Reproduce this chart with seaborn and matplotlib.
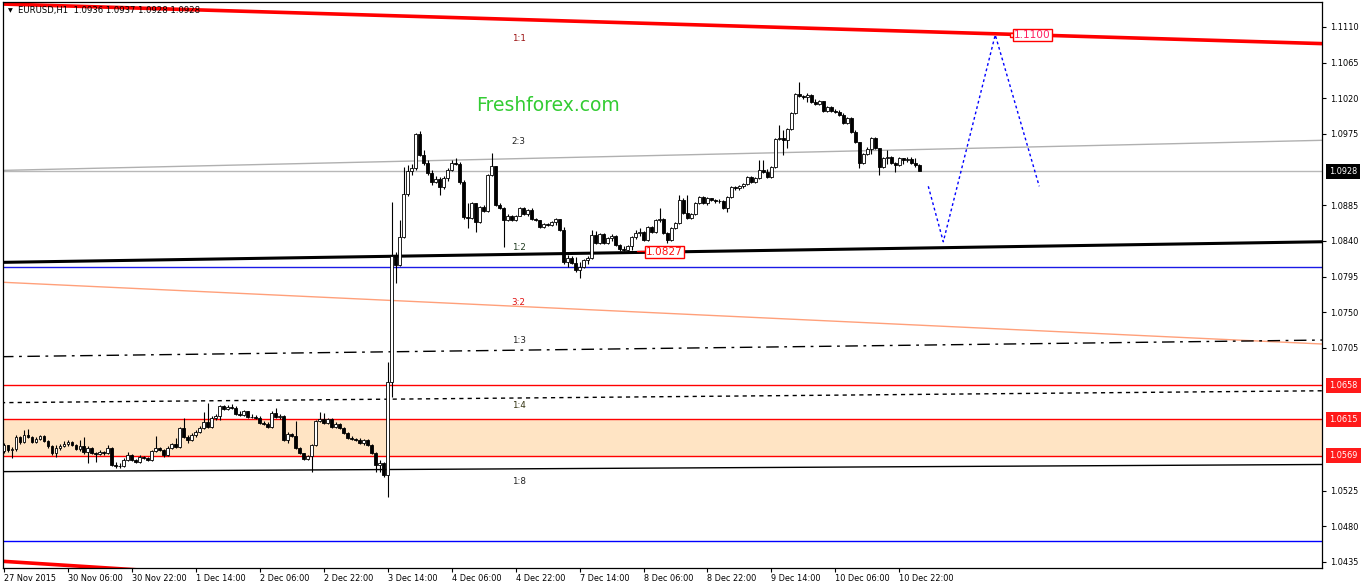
import numpy as np
import pandas as pd
import matplotlib
matplotlib.use("Agg")
import matplotlib.pyplot as plt
import seaborn as sns

# EURUSD H1 candles (open of each bar = previous close)
first_open = 1.0575
closes = [
    1.0583, 1.0576, 1.0578, 1.0593, 1.0586, 1.0595, 1.0593, 1.0586, 1.0590, 1.0594,
    1.0588, 1.0581, 1.0573, 1.0579, 1.0581, 1.0584, 1.0586, 1.0583, 1.0578, 1.0581,
    1.0574, 1.0579, 1.0573, 1.0571, 1.0574, 1.0573, 1.0579, 1.0557, 1.0556, 1.0556,
    1.0564, 1.0570, 1.0564, 1.0561, 1.0567, 1.0566, 1.0564, 1.0575, 1.0579, 1.0576,
    1.0570, 1.0579, 1.0584, 1.0580, 1.0604, 1.0593, 1.0589, 1.0595, 1.0599, 1.0604,
    1.0612, 1.0605, 1.0617, 1.0619, 1.0632, 1.0628, 1.0631, 1.0629, 1.0622, 1.0620,
    1.0626, 1.0618, 1.0618, 1.0617, 1.0610, 1.0609, 1.0605, 1.0623, 1.0618, 1.0619,
    1.0589, 1.0596, 1.0594, 1.0579, 1.0573, 1.0565, 1.0569, 1.0583, 1.0613, 1.0615,
    1.0610, 1.0615, 1.0605, 1.0609, 1.0604, 1.0598, 1.0591, 1.0590, 1.0589, 1.0585,
    1.0589, 1.0583, 1.0573, 1.0557, 1.0560, 1.0545, 1.0662, 1.0821, 1.0810, 1.0845,
    1.0899, 1.0928, 1.0932, 1.0975, 1.0949, 1.0938, 1.0926, 1.0914, 1.0918, 1.0908,
    1.0920, 1.0930, 1.0938, 1.0937, 1.0914, 1.0870, 1.0869, 1.0888, 1.0864, 1.0883,
    1.0878, 1.0923, 1.0934, 1.0885, 1.0882, 1.0866, 1.0871, 1.0866, 1.0871, 1.0882,
    1.0874, 1.0879, 1.0868, 1.0866, 1.0858, 1.0862, 1.0860, 1.0864, 1.0868, 1.0854,
    1.0814, 1.0819, 1.0812, 1.0803, 1.0807, 1.0816, 1.0819, 1.0848, 1.0838, 1.0849,
    1.0838, 1.0844, 1.0846, 1.0835, 1.0830, 1.0829, 1.0834, 1.0845, 1.0850, 1.0851,
    1.0841, 1.0858, 1.0851, 1.0866, 1.0868, 1.0850, 1.0841, 1.0856, 1.0863, 1.0892,
    1.0875, 1.0869, 1.0874, 1.0888, 1.0896, 1.0888, 1.0894, 1.0892, 1.0890, 1.0891,
    1.0882, 1.0896, 1.0908, 1.0907, 1.0909, 1.0912, 1.0921, 1.0914, 1.0920, 1.0930,
    1.0927, 1.0921, 1.0933, 1.0969, 1.0970, 1.0967, 1.0981, 1.1002, 1.1026, 1.1023,
    1.1022, 1.1024, 1.1015, 1.1013, 1.1017, 1.1004, 1.1009, 1.1004, 1.1003, 1.0999,
    1.0989, 1.0995, 1.0978, 1.0965, 1.0938, 1.0950, 1.0956, 1.0970, 1.0957, 1.0933,
    1.0945, 1.0946, 1.0938, 1.0936, 1.0945, 1.0942, 1.0943, 1.0938, 1.0936, 1.0928,
]
highs = [
    1.0585, 1.0583, 1.0580, 1.0595, 1.0594, 1.0602, 1.0603, 1.0594, 1.0593, 1.0595,
    1.0595, 1.0589, 1.0583, 1.0583, 1.0584, 1.0588, 1.0589, 1.0588, 1.0584, 1.0589,
    1.0593, 1.0581, 1.0580, 1.0574, 1.0576, 1.0575, 1.0583, 1.0580, 1.0561, 1.0560,
    1.0566, 1.0574, 1.0571, 1.0565, 1.0570, 1.0569, 1.0567, 1.0576, 1.0594, 1.0580,
    1.0578, 1.0581, 1.0585, 1.0591, 1.0605, 1.0617, 1.0595, 1.0598, 1.0602, 1.0607,
    1.0624, 1.0636, 1.0619, 1.0622, 1.0633, 1.0633, 1.0633, 1.0634, 1.0632, 1.0626,
    1.0627, 1.0626, 1.0622, 1.0620, 1.0619, 1.0613, 1.0612, 1.0626, 1.0629, 1.0622,
    1.0620, 1.0599, 1.0598, 1.0613, 1.0580, 1.0573, 1.0570, 1.0584, 1.0614, 1.0624,
    1.0623, 1.0617, 1.0617, 1.0612, 1.0610, 1.0605, 1.0599, 1.0594, 1.0591, 1.0591,
    1.0590, 1.0590, 1.0584, 1.0574, 1.0564, 1.0561, 1.0687, 1.0889, 1.0826, 1.0867,
    1.0933, 1.0936, 1.0937, 1.0976, 1.0979, 1.0955, 1.0942, 1.0930, 1.0922, 1.0921,
    1.0922, 1.0932, 1.0942, 1.0945, 1.0940, 1.0917, 1.0888, 1.0889, 1.0888, 1.0884,
    1.0885, 1.0925, 1.0951, 1.0935, 1.0888, 1.0883, 1.0874, 1.0873, 1.0873, 1.0883,
    1.0883, 1.0880, 1.0882, 1.0869, 1.0866, 1.0863, 1.0863, 1.0865, 1.0869, 1.0868,
    1.0858, 1.0822, 1.0821, 1.0820, 1.0814, 1.0817, 1.0821, 1.0854, 1.0853, 1.0850,
    1.0850, 1.0845, 1.0849, 1.0848, 1.0836, 1.0834, 1.0835, 1.0846, 1.0854, 1.0856,
    1.0853, 1.0859, 1.0859, 1.0868, 1.0882, 1.0869, 1.0851, 1.0858, 1.0864, 1.0898,
    1.0894, 1.0898, 1.0875, 1.0889, 1.0897, 1.0897, 1.0896, 1.0894, 1.0893, 1.0893,
    1.0892, 1.0897, 1.0909, 1.0909, 1.0911, 1.0913, 1.0922, 1.0922, 1.0921, 1.0942,
    1.0942, 1.0931, 1.0935, 1.0970, 1.0986, 1.0980, 1.0983, 1.1003, 1.1027, 1.1041,
    1.1024, 1.1027, 1.1025, 1.1019, 1.1018, 1.1017, 1.1010, 1.1010, 1.1007, 1.1005,
    1.1002, 1.0997, 1.0997, 1.0980, 1.0965, 1.0951, 1.0959, 1.0971, 1.0971, 1.0957,
    1.0946, 1.0955, 1.0947, 1.0940, 1.0946, 1.0945, 1.0946, 1.0946, 1.0945, 1.0937,
]
lows = [
    1.0573, 1.0574, 1.0566, 1.0575, 1.0584, 1.0585, 1.0591, 1.0585, 1.0585, 1.0589,
    1.0586, 1.0579, 1.0570, 1.0567, 1.0576, 1.0580, 1.0581, 1.0581, 1.0576, 1.0575,
    1.0571, 1.0560, 1.0571, 1.0561, 1.0570, 1.0570, 1.0571, 1.0556, 1.0554, 1.0554,
    1.0555, 1.0562, 1.0562, 1.0560, 1.0560, 1.0565, 1.0562, 1.0562, 1.0574, 1.0575,
    1.0567, 1.0569, 1.0578, 1.0579, 1.0579, 1.0591, 1.0585, 1.0588, 1.0593, 1.0598,
    1.0603, 1.0604, 1.0604, 1.0614, 1.0614, 1.0627, 1.0627, 1.0628, 1.0620, 1.0619,
    1.0619, 1.0617, 1.0617, 1.0615, 1.0609, 1.0608, 1.0604, 1.0604, 1.0617, 1.0615,
    1.0588, 1.0585, 1.0593, 1.0578, 1.0571, 1.0564, 1.0564, 1.0549, 1.0581, 1.0612,
    1.0609, 1.0609, 1.0604, 1.0604, 1.0603, 1.0597, 1.0590, 1.0589, 1.0588, 1.0584,
    1.0583, 1.0581, 1.0571, 1.0549, 1.0549, 1.0542, 1.0517, 1.0643, 1.0787, 1.0809,
    1.0844, 1.0897, 1.0923, 1.0930, 1.0947, 1.0936, 1.0923, 1.0911, 1.0913, 1.0898,
    1.0906, 1.0916, 1.0928, 1.0936, 1.0912, 1.0868, 1.0856, 1.0868, 1.0851, 1.0863,
    1.0877, 1.0877, 1.0922, 1.0884, 1.0880, 1.0832, 1.0865, 1.0865, 1.0865, 1.0871,
    1.0873, 1.0871, 1.0866, 1.0865, 1.0856, 1.0856, 1.0859, 1.0859, 1.0860, 1.0853,
    1.0811, 1.0807, 1.0811, 1.0801, 1.0793, 1.0806, 1.0811, 1.0817, 1.0836, 1.0836,
    1.0836, 1.0836, 1.0840, 1.0834, 1.0827, 1.0827, 1.0827, 1.0829, 1.0843, 1.0846,
    1.0840, 1.0840, 1.0850, 1.0850, 1.0864, 1.0849, 1.0838, 1.0840, 1.0855, 1.0862,
    1.0874, 1.0868, 1.0868, 1.0873, 1.0887, 1.0887, 1.0885, 1.0891, 1.0888, 1.0888,
    1.0880, 1.0877, 1.0894, 1.0904, 1.0904, 1.0907, 1.0911, 1.0913, 1.0913, 1.0918,
    1.0926, 1.0920, 1.0920, 1.0932, 1.0967, 1.0948, 1.0957, 1.0980, 1.1000, 1.1022,
    1.1019, 1.1015, 1.1014, 1.1012, 1.1012, 1.1003, 1.1003, 1.1003, 1.1002, 1.0998,
    1.0988, 1.0988, 1.0976, 1.0964, 1.0932, 1.0937, 1.0949, 1.0950, 1.0956, 1.0923,
    1.0932, 1.0937, 1.0937, 1.0927, 1.0935, 1.0937, 1.0940, 1.0937, 1.0933, 1.0928,
]

date_labels = ["27 Nov 2015", "30 Nov 06:00", "30 Nov 22:00", "1 Dec 14:00", "2 Dec 06:00",
               "2 Dec 22:00", "3 Dec 14:00", "4 Dec 06:00", "4 Dec 22:00", "7 Dec 14:00",
               "8 Dec 06:00", "8 Dec 22:00", "9 Dec 14:00", "10 Dec 06:00", "10 Dec 22:00"]
bars_per_label = 16

price_ticks = [1.0435, 1.0480, 1.0525, 1.0705, 1.0750, 1.0795, 1.0840, 1.0885,
               1.0975, 1.1020, 1.1065, 1.1110]

# sloped lines: prices at the left and right edge of the window
edge_bars = [-0.75, 329.75]
red_top = [1.1139, 1.1089]
red_bottom = [1.0436, 1.0330]
gray_23 = [1.0929, 1.0967]
black_12 = [1.0813, 1.0839]
salmon_32 = [1.0788, 1.0710]
dashdot_13 = [1.0694, 1.0715]
dashed_14 = [1.0636, 1.0651]
black_18 = [1.0549, 1.0558]

bid = 1.0928
blue_mid = 1.0807
blue_low = 1.0461
red_level = 1.0658
zone_low, zone_high = 1.0569, 1.0615

forecast_bars = [231.25, 235, 248, 259]
forecast_prices = [1.0909, 1.0839, 1.1100, 1.0909]

ratio_labels = ["1:1", "2:3", "1:2", "3:2", "1:3", "1:4", "1:8"]
ratio_prices = [1.1096, 1.0966, 1.0832, 1.0763, 1.0714, 1.0632, 1.0537]
ratio_colors = ["#9b1010", "#222222", "#1f3a1f", "#e01010", "#222222", "#333311", "#222222"]

tag_prices = [1.0928, 1.0658, 1.0615, 1.0569]
tag_colors = ["black", "#ff1a1a", "#ff1a1a", "#ff1a1a"]

sns.set_style("white")
plt.rcParams["font.family"] = ["DejaVu Sans"]

fig = plt.figure(figsize=(13.62, 5.86), dpi=100)
ax = fig.add_axes([3 / 1362, 18 / 586, 1319 / 1362, 566 / 586])

# background levels
ax.axhspan(zone_low, zone_high, color="#FFE4C4", lw=0, zorder=0)
for lvl in [red_level, zone_high, zone_low]:
    ax.axhline(lvl, color="#ff0000", lw=1.0, zorder=1)
ax.axhline(bid, color="#b8b8b8", lw=1.0, zorder=1)
ax.axhline(blue_mid, color="#1a1ae6", lw=1.0, zorder=1)
ax.axhline(blue_low, color="#0000ff", lw=1.0, zorder=1)

sns.lineplot(x=edge_bars, y=red_top, ax=ax, color="#ff0000", lw=2.6, zorder=2)
sns.lineplot(x=edge_bars, y=red_bottom, ax=ax, color="#ff0000", lw=2.6, zorder=2)
sns.lineplot(x=edge_bars, y=gray_23, ax=ax, color="#b0b0b0", lw=1.0, zorder=1)
sns.lineplot(x=edge_bars, y=black_12, ax=ax, color="black", lw=2.2, zorder=2)
sns.lineplot(x=edge_bars, y=salmon_32, ax=ax, color="#ffa07a", lw=1.0, zorder=1)
sns.lineplot(x=edge_bars, y=dashdot_13, ax=ax, color="black", lw=1.0, zorder=1,
             linestyle=(0, (9, 4, 2, 4)))
sns.lineplot(x=edge_bars, y=dashed_14, ax=ax, color="black", lw=1.0, zorder=1,
             linestyle=(0, (3, 3)))
sns.lineplot(x=edge_bars, y=black_18, ax=ax, color="black", lw=1.0, zorder=1)

# candles
df = pd.DataFrame({"close": closes, "high": highs, "low": lows})
df["open"] = [first_open] + closes[:-1]
df["bar"] = np.arange(len(df))
up = df["close"] >= df["open"]
body_low = df[["open", "close"]].min(axis=1)
body_h = (df["close"] - df["open"]).abs().clip(lower=0.00003)
ax.vlines(df["bar"], df["low"], df["high"], color="black", lw=0.8, zorder=3)
ax.bar(df["bar"], body_h, bottom=body_low, width=0.72,
       color=np.where(up, "white", "black"), edgecolor="black", linewidth=0.6, zorder=4)

# forecast path
sns.lineplot(x=forecast_bars, y=forecast_prices, ax=ax, color="#0000ff", lw=1.0,
             linestyle=(0, (2, 2)), zorder=5, sort=False)

# price tags on the chart
ax.plot([158.25, 161.0], [1.0827, 1.0827], color="#ff0000", lw=1.0, zorder=5)
ax.text(165.2, 1.0826, "1.0827", ha="center", va="center", fontsize=7.6, color="#ff1010",
        zorder=6, bbox=dict(boxstyle="square,pad=0.12", fc="white", ec="#ff0000", lw=1.0))
ax.plot([252.3], [1.1100], marker="s", ms=2.5, mfc="white", mec="#ff0000", zorder=6)
ax.text(257.3, 1.1100, "1.1100", ha="center", va="center", fontsize=7.6, color="#ff2060",
        zorder=6, bbox=dict(boxstyle="square,pad=0.12", fc="white", ec="#ff0000", lw=1.0))

# ratio labels
for lbl, p, c in zip(ratio_labels, ratio_prices, ratio_colors):
    ax.text(0.391, p, lbl, transform=ax.get_yaxis_transform(), ha="center", va="center",
            fontsize=6.3, color=c, zorder=6)

ax.text(0.4132, 0.8163, "Freshforex.com", transform=ax.transAxes, ha="center", va="center",
        fontsize=13.5, color="#33cc33", zorder=6)

# header
ax.text(0.0036, 0.985, "\u25bc", transform=ax.transAxes, ha="left", va="center",
        fontsize=4.5, color="black", zorder=7)
ax.text(0.0115, 0.985, "EURUSD,H1  1.0936 1.0937 1.0928 1.0928", transform=ax.transAxes,
        ha="left", va="center", fontsize=6.1, color="black", zorder=7)

# axes
ax.set_xlim(-0.25, 329.75)
ax.set_ylim(1.04274, 1.11415)
ax.set_xticks(np.arange(len(date_labels)) * bars_per_label)
ax.set_xticklabels(date_labels)
for t in ax.get_xticklabels():
    t.set_horizontalalignment("left")
ax.yaxis.tick_right()
ax.set_yticks(price_ticks)
ax.set_yticklabels([f"{p:.4f}" for p in price_ticks])
ax.tick_params(axis="both", direction="out", length=3, width=0.8, labelsize=5.9,
               colors="black", pad=2)
ax.tick_params(axis="x", bottom=True, pad=1.5)
ax.tick_params(axis="y", right=True, pad=3)
for s in ax.spines.values():
    s.set_color("black")
    s.set_linewidth(0.9)

for p, c in zip(tag_prices, tag_colors):
    ax.annotate(f"{p:.4f}", xy=(1, p), xycoords=ax.get_yaxis_transform(),
                xytext=(5.3, 0), textcoords="offset points", ha="left", va="center",
                fontsize=5.9, color="white", annotation_clip=False,
                bbox=dict(boxstyle="square,pad=0.35", fc=c, ec="none"))

fig.savefig("out.png", dpi=100)
